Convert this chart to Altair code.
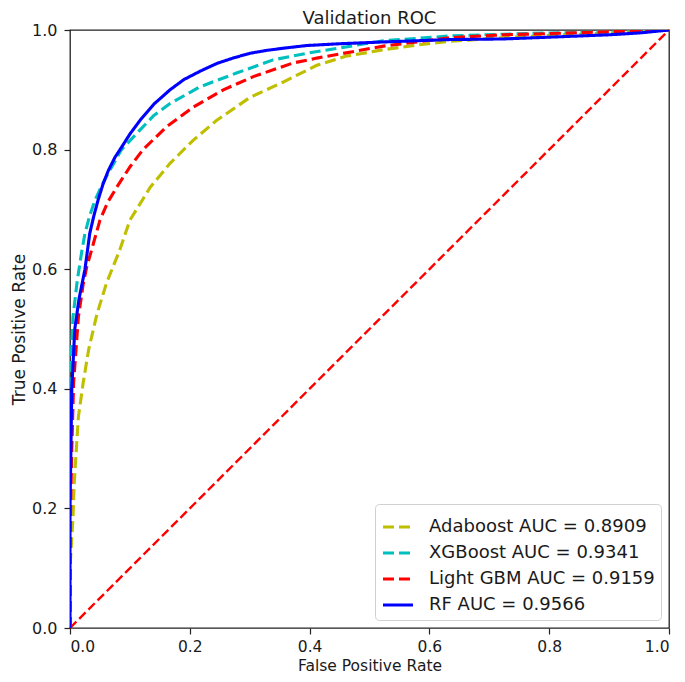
import altair as alt
import pandas as pd

labels = ["Adaboost AUC = 0.8909", "XGBoost AUC = 0.9341",
          "Light GBM AUC = 0.9159", "RF AUC = 0.9566"]
colors = ["#bfbf00", "#00bfbf", "#ff0000", "#0000ff"]

ada_fpr = [0, 0, 0.005, 0.007, 0.014, 0.022, 0.031, 0.045, 0.061, 0.083, 0.1, 0.134, 0.167,
           0.206, 0.245, 0.3, 0.356, 0.412, 0.46, 0.523, 0.58, 0.634, 0.72, 0.8, 0.9, 1.0]
ada_tpr = [0, 0.1, 0.186, 0.242, 0.353, 0.41, 0.465, 0.525, 0.577, 0.632, 0.682, 0.737, 0.777,
           0.816, 0.849, 0.887, 0.913, 0.941, 0.956, 0.967, 0.975, 0.981, 0.987, 0.991, 0.995, 1.0]

xgb_fpr = [0, 0, 0.002, 0.005, 0.012, 0.02, 0.025, 0.033, 0.042, 0.053, 0.065, 0.086, 0.117,
           0.14, 0.167, 0.217, 0.278, 0.339, 0.395, 0.45, 0.523, 0.634, 0.723, 0.8, 0.9, 1.0]
xgb_tpr = [0, 0.3, 0.45, 0.52, 0.58, 0.632, 0.66, 0.69, 0.716, 0.74, 0.763, 0.8, 0.833,
           0.857, 0.877, 0.905, 0.928, 0.95, 0.961, 0.97, 0.982, 0.99, 0.993, 0.995, 0.997, 1.0]

lgb_fpr = [0, 0, 0.003, 0.006, 0.014, 0.022, 0.028, 0.036, 0.05, 0.063, 0.078, 0.1, 0.122,
           0.161, 0.206, 0.256, 0.306, 0.373, 0.412, 0.523, 0.634, 0.723, 0.8, 0.9, 1.0]
lgb_tpr = [0, 0.15, 0.298, 0.41, 0.52, 0.575, 0.604, 0.632, 0.682, 0.712, 0.737, 0.771, 0.8,
           0.838, 0.871, 0.9, 0.922, 0.945, 0.953, 0.973, 0.987, 0.992, 0.994, 0.997, 1.0]

rf_fpr = [0, 0, 0.003, 0.008, 0.015, 0.025, 0.033, 0.04, 0.047, 0.055, 0.064, 0.075, 0.088,
          0.1, 0.117, 0.14, 0.167, 0.19, 0.217, 0.245, 0.272, 0.3, 0.329, 0.36, 0.395,
          0.45, 0.523, 0.634, 0.723, 0.8, 0.9, 0.95, 1.0]
rf_tpr = [0, 0.2, 0.4, 0.5, 0.55, 0.6, 0.66, 0.69, 0.716, 0.742, 0.765, 0.787, 0.807,
          0.826, 0.849, 0.876, 0.9, 0.917, 0.931, 0.944, 0.953, 0.961, 0.966, 0.97, 0.974,
          0.977, 0.98, 0.984, 0.985, 0.988, 0.992, 0.995, 1.0]

diag_x = [0, 1]
diag_y = [0, 1]

rows = []
for lab, fx, ty in zip(labels, [ada_fpr, xgb_fpr, lgb_fpr, rf_fpr],
                       [ada_tpr, xgb_tpr, lgb_tpr, rf_tpr]):
    for i, (a, b) in enumerate(zip(fx, ty)):
        rows.append({"model": lab, "fpr": a, "tpr": b, "i": i})
df = pd.DataFrame(rows)
diag = pd.DataFrame({"fpr": diag_x, "tpr": diag_y})

xs = alt.Scale(domain=[0, 1], nice=False, zero=False)
ys = alt.Scale(domain=[0, 1], nice=False, zero=False)
vals = [0, 0.2, 0.4, 0.6, 0.8, 1.0]
txt = "#1a1a1a"

xax = alt.Axis(values=vals, format=".1f", title="False Positive Rate", grid=False,
               domain=False, tickSize=6, tickColor="#222", tickWidth=1.2, labelPadding=5,
               labelFontSize=15.5, titleFontSize=15.5, titleFontWeight="normal",
               labelColor=txt, titleColor=txt, titlePadding=15.5,
               titleBaseline="alphabetic",
               labelFont="DejaVu Sans", titleFont="DejaVu Sans")
yax = alt.Axis(values=vals, format=".1f", title="True Positive Rate", grid=False,
               domain=False, tickSize=6, tickColor="#222", tickWidth=1.2, labelPadding=7,
               labelFontSize=16, titleFontSize=17, titleFontWeight="normal",
               labelColor=txt, titleColor=txt, titlePadding=3,
               labelFont="DejaVu Sans", titleFont="DejaVu Sans")

dash = [11, 5]
lines = alt.Chart(df).mark_line(strokeWidth=3.1, clip=True).encode(
    x=alt.X("fpr:Q", scale=xs, axis=xax),
    y=alt.Y("tpr:Q", scale=ys, axis=yax),
    color=alt.Color("model:N", scale=alt.Scale(domain=labels, range=colors),
                    legend=alt.Legend(title=None)),
    strokeDash=alt.StrokeDash("model:N", scale=alt.Scale(domain=labels,
                              range=[dash, dash, dash, [1, 0]]),
                              legend=alt.Legend(title=None)),
    order="i:Q",
)

diag_line = alt.Chart(diag).mark_line(color="#ff0000", strokeWidth=2.4,
                                      strokeDash=[9, 4]).encode(
    x=alt.X("fpr:Q", scale=xs, axis=xax),
    y=alt.Y("tpr:Q", scale=ys, axis=yax),
)

chart = alt.layer(diag_line, lines).properties(
    width=599, height=598,
    title=alt.TitleParams("Validation ROC", fontSize=18, fontWeight="normal",
                          font="DejaVu Sans", color=txt, offset=-6),
    padding={"left": 62, "top": 22, "right": 8, "bottom": 46},
    autosize=alt.AutoSizeParams(type="none"),
).configure_view(stroke="#222", strokeWidth=1.3).configure_legend(
    orient="bottom-right", offset=8, fillColor="white", strokeColor="#d0d0d0",
    cornerRadius=4, padding=6, symbolType="stroke", symbolSize=900,
    symbolStrokeWidth=3.1, labelFontSize=18, labelFont="DejaVu Sans",
    labelColor=txt, labelOffset=14, rowPadding=0, labelLimit=400,
)

chart.save("out.html", embed_options={"renderer": "svg", "actions": False})
